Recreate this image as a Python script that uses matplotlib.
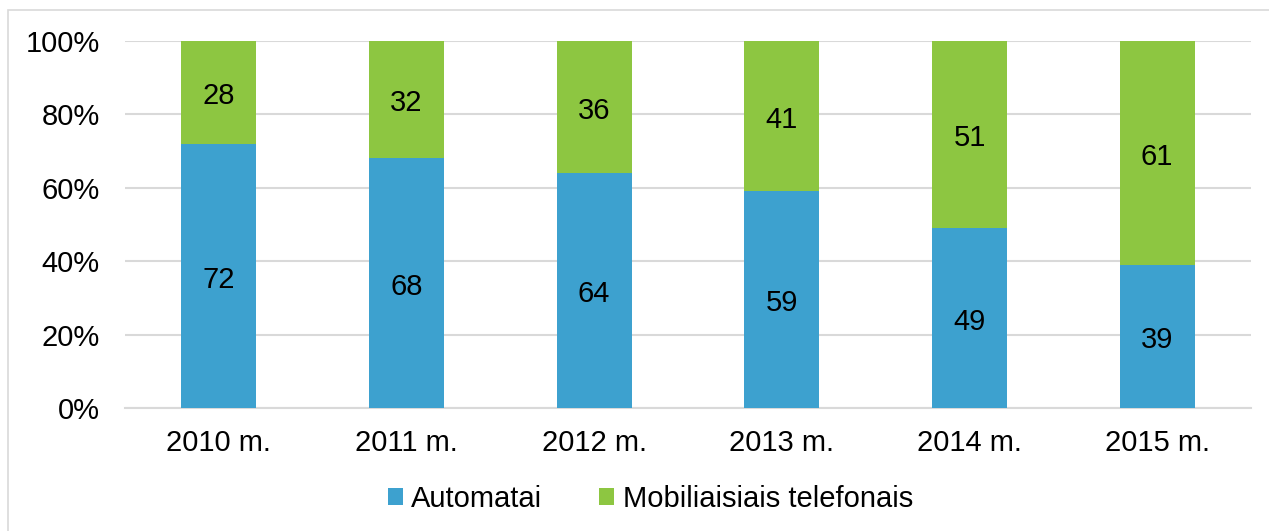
import numpy as np
import matplotlib
matplotlib.use("Agg")
from matplotlib import pyplot as plt
from matplotlib.patches import Rectangle

years = ["2010 m.", "2011 m.", "2012 m.", "2013 m.", "2014 m.", "2015 m."]
automatai = [72, 68, 64, 59, 49, 39]
mobilieji = [28, 32, 36, 41, 51, 61]
series_names = ["Automatai", "Mobiliaisiais telefonais"]

BLUE = "#3DA1CF"
GREEN = "#8DC641"
GRID = "#D9D9D9"
FS = 21

plt.rcParams["font.family"] = ["Liberation Sans", "DejaVu Sans"]

fig = plt.figure(figsize=(12.69, 5.31), dpi=100)
ax = fig.add_axes([125 / 1269, 1 - 408 / 531, (1251 - 125) / 1269, (408 - 41) / 531])

x = np.arange(len(years))
ax.bar(x, automatai, width=0.4, color=BLUE, label=series_names[0], zorder=2)
ax.bar(x, mobilieji, width=0.4, bottom=automatai, color=GREEN, label=series_names[1], zorder=2)

# value labels centred in each segment (nudged down a touch like the original)
for i in range(len(years)):
    ax.text(x[i], automatai[i] / 2 - 1, str(automatai[i]), ha="center", va="center",
            fontsize=FS, color="black", zorder=3)
    ax.text(x[i], automatai[i] + mobilieji[i] / 2 - 1, str(mobilieji[i]), ha="center",
            va="center", fontsize=FS, color="black", zorder=3)

ax.set_xlim(-0.5, len(years) - 0.5)
ax.set_ylim(0, 100)
ax.set_yticks(range(0, 101, 20))
ax.set_yticklabels([f"{v}%" for v in range(0, 101, 20)])
ax.set_xticks(x)
ax.set_xticklabels(years)
ax.tick_params(axis="both", length=0, labelsize=FS, colors="black")
ax.tick_params(axis="y", pad=18)
ax.tick_params(axis="x", pad=15)

ax.yaxis.grid(True, color=GRID, linewidth=1.5, zorder=0)
for s in ["top", "right", "left"]:
    ax.spines[s].set_visible(False)
ax.spines["bottom"].set_color(GRID)
ax.spines["bottom"].set_linewidth(1.5)
ax.spines["bottom"].set_zorder(1)

fig.legend(loc="center", bbox_to_anchor=(0.5126, 1 - 499 / 531), ncol=2, frameon=False,
           fontsize=FS, handlelength=0.5, handleheight=0.5, handletextpad=0.3,
           columnspacing=1.95)

# outer chart border
fig.patches.append(Rectangle((8 / 1269, -0.01), 1.05, 1 - 10 / 531 + 0.01,
                             transform=fig.transFigure, fill=False,
                             edgecolor="#D9D9D9", linewidth=1.2))

fig.savefig("out.png", dpi=100)
